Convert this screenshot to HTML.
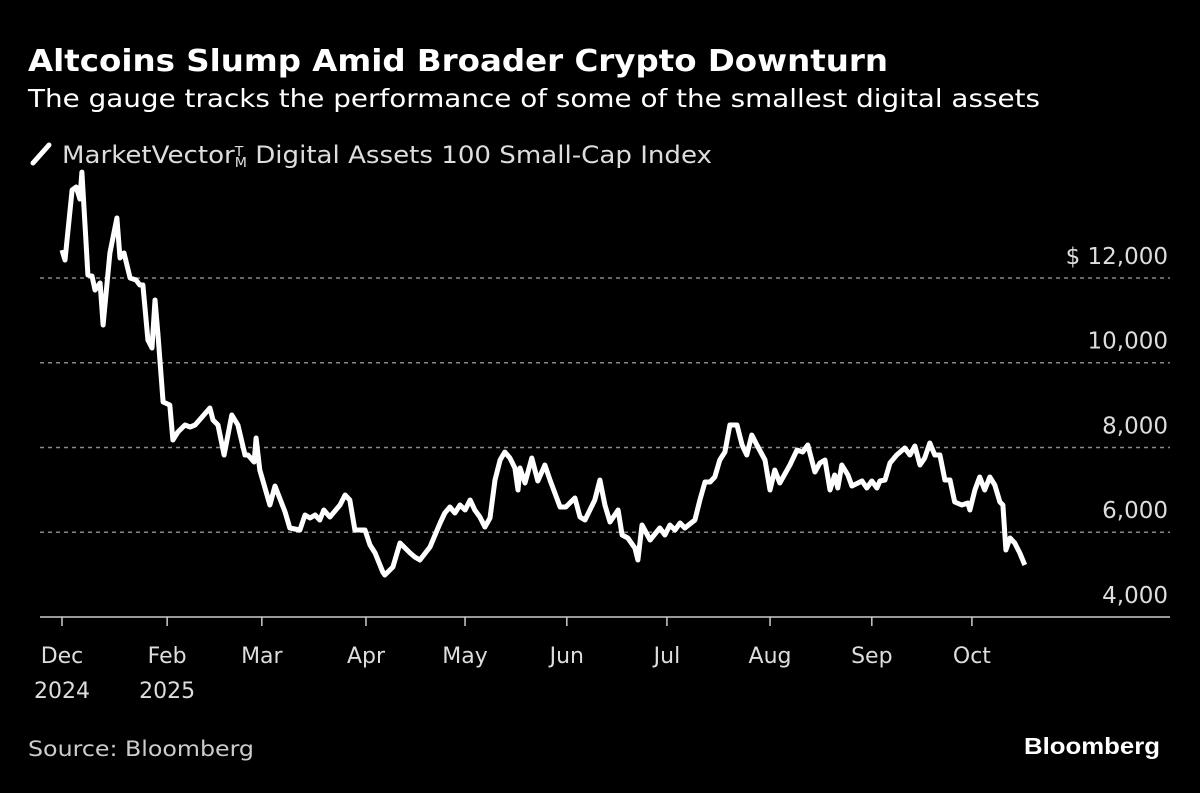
<!DOCTYPE html>
<html><head><meta charset="utf-8"><style>
body{margin:0;background:#000;width:1200px;height:789px;overflow:hidden;font-family:"DejaVu Sans",sans-serif;color:#fff}
svg text{font-family:"DejaVu Sans",sans-serif}
</style></head><body>
<svg width="1200" height="789">
<text x="28" y="71" font-size="30" font-weight="bold" fill="#fff" textLength="860" lengthAdjust="spacingAndGlyphs">Altcoins Slump Amid Broader Crypto Downturn</text>
<text x="28" y="107" font-size="25" fill="#fff" textLength="1012" lengthAdjust="spacingAndGlyphs">The gauge tracks the performance of some of the smallest digital assets</text>
<g>
<line x1="33" y1="163" x2="49" y2="145" stroke="#fff" stroke-width="5" stroke-linecap="round"/>
<text x="62" y="163" font-size="24" fill="#ddd" textLength="650" lengthAdjust="spacingAndGlyphs">MarketVector<tspan font-size="13" dy="-7">T</tspan><tspan font-size="13" dy="11" dx="-8">M</tspan><tspan dy="-4"> Digital Assets 100 Small-Cap Index</tspan></text>
</g>
<g id="grid"></g><g id="axis"></g>
<path id="line" fill="none" stroke="#fff" stroke-width="5" stroke-linejoin="round"/>
<text x="28" y="756" font-size="21" fill="#ccc" textLength="226" lengthAdjust="spacingAndGlyphs">Source: Bloomberg</text>
<text x="1160" y="754" font-size="23" font-weight="bold" fill="#fff" text-anchor="end" textLength="136" lengthAdjust="spacingAndGlyphs" style="font-family:'Liberation Sans',sans-serif">Bloomberg</text>
</svg>
<script>
const days=[0,0.9,3.0,4.2,5.3,5.9,7.1,7.7,8.9,9.8,11.3,12.2,14.2,16.3,17.2,18.4,20.2,22.0,23.1,24.0,25.5,26.7,27.6,28.5,30.0,32.0,32.9,34.4,36.5,38.0,39.5,43.9,44.8,46.3,48.1,50.4,52.2,54.3,55.2,57.0,57.6,58.7,61.7,63.2,66.2,67.6,70.6,72.1,73.6,75.1,76.5,77.7,79.5,82.5,84.0,85.4,86.9,89.9,91.4,92.9,95.2,95.8,98.2,100.3,103.3,104.7,106.2,109.2,112.2,113.6,115.1,116.6,118.1,119.6,121.1,122.5,124.0,125.5,127.0,128.5,130.0,131.4,132.9,134.4,135.3,135.9,137.4,139.4,141.2,143.3,144.8,147.8,149.5,152.2,153.7,155.2,158.1,159.6,161.1,162.6,165.0,166.2,167.9,170.0,170.9,172.1,174.5,177.4,178.9,180.4,181.9,183.4,184.8,187.8,189.3,190.8,192.3,193.7,195.2,196.7,198.2,200.3,201.8,203.2,204.7,206.2,208.6,210.1,211.5,213.0,216.0,218.1,219.8,221.3,223.4,224.9,226.4,227.9,229.3,230.2,231.4,233.2,234.4,236.2,237.4,238.8,240.3,241.8,242.7,244.2,245.7,247.7,250.1,251.6,253.1,254.6,256.0,257.5,259.0,260.5,262.0,263.5,264.9,267.0,268.8,269.4,270.9,272.3,273.8,275.3,276.8,278.3,279.2,280.1,281.3,282.7,284.2,285.7];
const values=[12660,12425,14077,14148,13864,14500,12897,12070,12047,11717,11882,10891,12590,13416,12472,12590,12000,11953,11835,11835,10537,10348,11481,10655,9074,9003,8177,8366,8531,8484,8531,8932,8649,8531,7823,8767,8531,7823,7823,7657,8224,7469,6643,7091,6478,6100,6053,6407,6336,6407,6289,6525,6360,6643,6879,6761,6053,6053,5699,5510,5062,4991,5180,5746,5510,5416,5345,5652,6218,6454,6596,6454,6643,6525,6761,6525,6360,6124,6336,7233,7705,7894,7752,7516,6997,7516,7162,7752,7209,7587,7233,6596,6596,6808,6360,6289,6761,7233,6643,6242,6525,5935,5864,5628,5345,6171,5817,6100,5935,6171,6053,6218,6100,6289,6761,7186,7186,7304,7705,7894,8531,8531,8059,7823,8295,8059,7705,6997,7469,7162,7587,7941,7894,8059,7422,7634,7705,6997,7350,7044,7587,7350,7091,7162,7209,7044,7209,7044,7209,7233,7634,7823,7989,7823,8035,7587,7752,8106,7823,7823,7233,7233,6714,6643,6690,6525,6997,7304,6997,7304,7115,6714,6643,5581,5864,5746,5510,5227];
const tickDays=[0,31.2,59.3,90.2,119.6,149.8,179.5,210.1,240.3,270.0];
const tickTop=["Dec","Feb","Mar","Apr","May","Jun","Jul","Aug","Sep","Oct"];
const tickBottom=["2024","2025","","","","","","","",""];
const yTicks=[4000,6000,8000,10000,12000];
const yLabels=["4,000","6,000","8,000","10,000","$ 12,000"];
const xs=d=>62+d*3.37, ys=v=>278+(12000-v)/23.6;
const NS="http://www.w3.org/2000/svg";
const grid=document.getElementById('grid'), axis=document.getElementById('axis');
yTicks.forEach((v,i)=>{
  const y=ys(v);
  if(v>4000){const l=document.createElementNS(NS,'line');
  
  
  l.setAttribute('x1',40);l.setAttribute('x2',1170);l.setAttribute('y1',y);l.setAttribute('y2',y);
  l.setAttribute('stroke','#888');l.setAttribute('stroke-width','1.5');l.setAttribute('stroke-dasharray','4 4');grid.appendChild(l);}
  const t=document.createElementNS(NS,'text');
  
  
  t.setAttribute('x',1168);t.setAttribute('y',y-14);t.setAttribute('text-anchor','end');t.setAttribute('font-size','23');t.setAttribute('fill','#ddd');
  t.textContent=yLabels[i];grid.appendChild(t);
});
const base=document.createElementNS(NS,'line');


base.setAttribute('x1',40);base.setAttribute('x2',1170);base.setAttribute('y1',617);base.setAttribute('y2',617);base.setAttribute('stroke','#ccc');base.setAttribute('stroke-width','1.5');axis.appendChild(base);
tickDays.forEach((d,i)=>{
  const x=xs(d);
  const l=document.createElementNS(NS,'line');
  
  
  l.setAttribute('x1',x);l.setAttribute('x2',x);l.setAttribute('y1',617);l.setAttribute('y2',626);l.setAttribute('stroke','#ccc');l.setAttribute('stroke-width','1.5');axis.appendChild(l);
  [tickTop[i],tickBottom[i]].forEach((s,j)=>{ if(!s)return;
    const t=document.createElementNS(NS,'text');
    
    
    t.setAttribute('x',x);t.setAttribute('y',663+j*35);t.setAttribute('text-anchor','middle');t.setAttribute('font-size','22');t.setAttribute('fill','#ddd');
    t.textContent=s;axis.appendChild(t);});
});
document.getElementById('line').setAttribute('d',days.map((d,i)=>(i?'L':'M')+xs(d).toFixed(1)+','+ys(values[i]).toFixed(1)).join(''));
</script>
</body></html>
